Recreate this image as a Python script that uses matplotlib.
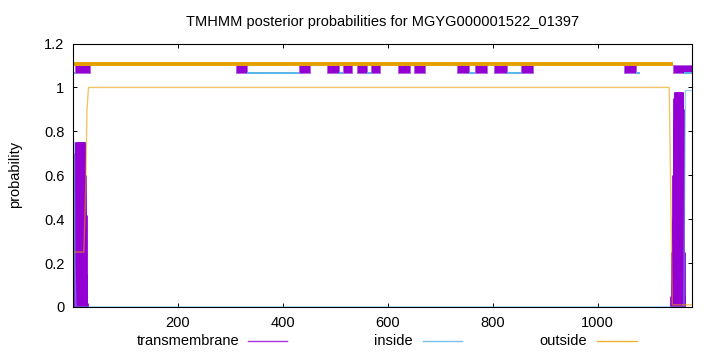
#!/usr/bin/env python3
import matplotlib
matplotlib.use("Agg")
import matplotlib.pyplot as plt
from matplotlib.lines import Line2D
from matplotlib.ticker import FormatStrFormatter

plt.rcParams["font.family"] = ["Liberation Sans", "DejaVu Sans"]
plt.rcParams["font.size"] = 10.5

# protein length (x range)
seq_len = 1180

# predicted topology drawn along the top of the plot
tm_start = [5, 310, 430, 485, 515, 542, 568, 620, 649, 731, 766, 803, 854, 1050, 1143]
tm_end = [33, 332, 451, 508, 532, 560, 586, 643, 671, 754, 789, 827, 876, 1072, 1180]
inside_start = [1, 332, 508, 560, 754, 827, 1072, 1165]
inside_end = [5, 430, 515, 568, 766, 854, 1081, 1180]
outside_start = [1]
outside_end = [1143]

# transmembrane posterior (impulses, per residue)
tm_pos = [5, 6, 7, 8, 9, 10, 11, 12, 13, 14, 15, 16, 17, 18, 19, 20, 21, 22, 23, 24, 25, 26, 27,
          1140, 1141, 1142, 1143, 1144, 1145, 1146, 1147, 1148, 1149, 1150, 1151, 1152, 1153,
          1154, 1155, 1156, 1157, 1158, 1159, 1160, 1161, 1162, 1163, 1164, 1165]
tm_prob = [0.70, 0.75, 0.75, 0.75, 0.75, 0.75, 0.75, 0.75, 0.75, 0.75, 0.75, 0.75, 0.75, 0.75,
           0.75, 0.75, 0.75, 0.75, 0.60, 0.43, 0.42, 0.15, 0.02,
           0.05, 0.12, 0.25, 0.40, 0.60, 0.85, 0.95, 0.98, 0.98, 0.98, 0.98, 0.98, 0.98, 0.98,
           0.98, 0.98, 0.98, 0.98, 0.98, 0.98, 0.98, 0.98, 0.90, 0.45, 0.25, 0.05]

# inside / outside posterior (lines)
inside_pos = [1, 3, 4, 6, 1164, 1165, 1167, 1180]
inside_prob = [0.75, 0.75, 0.20, 0.0, 0.0, 0.40, 0.986, 0.986]
outside_pos = [1, 21, 23, 25, 27, 30, 1136, 1138, 1142, 1180]
outside_prob = [0.25, 0.25, 0.40, 0.57, 0.90, 1.0, 1.0, 0.68, 0.01, 0.01]

purple = "#9400D3"
blue = "#56B4E9"
orange = "#E69F00"

fig = plt.figure(figsize=(7.2, 3.52), dpi=100)
ax = fig.add_axes([73.3 / 720, 1 - 307 / 352, 619 / 720, 263.5 / 352])

# posterior curves
ax.vlines(tm_pos, 0, tm_prob, color=purple, linewidth=2.0)
ax.plot(inside_pos, inside_prob, color=blue, linewidth=1.0, alpha=0.6)
ax.plot(outside_pos, outside_prob, color=orange, linewidth=1.0, alpha=0.6)

# topology track
ax.broken_barh([(s, e - s) for s, e in zip(tm_start, tm_end)], (1.064, 0.036),
               facecolor=purple, edgecolor="#b060e0", linewidth=0.6)
for s, e in zip(outside_start, outside_end):
    ax.plot([s, e], [1.106, 1.106], color=orange, linewidth=2.8, solid_capstyle="butt")
for s, e in zip(inside_start, inside_end):
    ax.plot([s, e], [1.067, 1.067], color=blue, linewidth=1.4, solid_capstyle="butt")

ax.set_xlim(1, seq_len)
ax.set_ylim(0, 1.2)
ax.set_xticks([200, 400, 600, 800, 1000])
ax.set_yticks([0, 0.2, 0.4, 0.6, 0.8, 1.0, 1.2])
ax.yaxis.set_major_formatter(FormatStrFormatter("%g"))
ax.tick_params(direction="in", top=True, right=True, length=3, width=0.7)
ax.tick_params(axis="x", pad=6.5)
ax.tick_params(axis="y", pad=6.5)
for sp in ax.spines.values():
    sp.set_linewidth(0.8)

fig.text(383 / 720, 1 - 22 / 352, "TMHMM posterior probabilities for MGYG000001522_01397",
         ha="center", va="center")
fig.text(15 / 720, 1 - 174 / 352, "probability", rotation=90, ha="center", va="center")

# key below the plot
key_y = 1 - 341 / 352
key = [("transmembrane", 239.5, 248, 287, purple),
       ("inside", 413, 423, 462, blue),
       ("outside", 587, 597, 637, orange)]
for label, tx, x0, x1, col in key:
    fig.text(tx / 720, key_y, label, ha="right", va="center")
    fig.add_artist(Line2D([x0 / 720, x1 / 720], [key_y, key_y], color=col,
                          linewidth=1.0, alpha=0.8, transform=fig.transFigure))

fig.savefig("out.png", dpi=100)
